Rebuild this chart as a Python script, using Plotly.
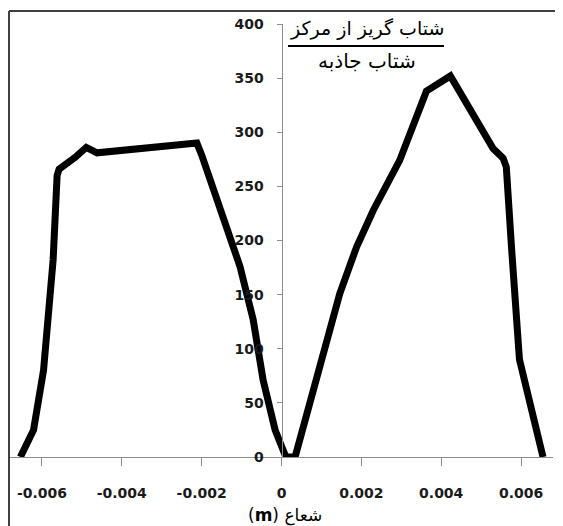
import plotly.graph_objects as go

# Radius (m) and ratio of centrifugal to gravitational acceleration
radius = [-0.00654, -0.00621, -0.00596, -0.00583, -0.00572, -0.00562, -0.00557,
          -0.00516, -0.00489, -0.00462, -0.00212, -0.00200, -0.00116, -0.00104,
          -0.00071, -0.00046, -0.00016, 0.00011, 0.00034, 0.00084, 0.00146,
          0.00188, 0.00230, 0.00296, 0.00363, 0.00423, 0.00530, 0.00555,
          0.00563, 0.00576, 0.00588, 0.00596, 0.00655]
ratio = [0, 25, 80, 127, 182, 260, 266,
         277, 286, 281, 290, 279, 185, 176,
         127, 71, 25, 0, 0, 65, 151,
         194, 228, 274, 338, 352, 285, 276,
         268, 194, 130, 90, 0]

x_ticks = [-0.006, -0.004, -0.002, 0, 0.002, 0.004, 0.006]
x_tick_labels = ["-0.006", "-0.004", "-0.002", "0", "0.002", "0.004", "0.006"]
y_ticks = [0, 50, 100, 150, 200, 250, 300, 350, 400]

# page has an 8px body margin; figure is sized so it ends at the window edge
OFF = 8
W, H = 563 - OFF, 526 - OFF
PL, PR, PT, PB = 10, 553, 24, 457          # plot area in page pixels
L, T = PL - OFF, PT - OFF
R, B = (OFF + W) - PR, (OFF + H) - PB
pw, ph = PR - PL, PB - PT


def px(xp):
    return (xp - PL) / pw


def py(yp):
    return (PB - yp) / ph


fig = go.Figure()
fig.add_trace(go.Scatter(x=radius, y=ratio, mode="lines",
                         line=dict(color="black", width=7),
                         hoverinfo="skip", showlegend=False))

tick_font = dict(family="DejaVu Sans", size=14, color="#1a1a1a", weight="bold")

fig.update_layout(
    width=W, height=H,
    margin=dict(l=L, r=R, t=T, b=B, autoexpand=False),
    paper_bgcolor="white", plot_bgcolor="white",
    xaxis=dict(range=[-0.0068, 0.0068], tickvals=x_ticks, ticktext=x_tick_labels,
               showgrid=False, zeroline=False, showline=True, linecolor="#8c8c8c",
               linewidth=1, ticks="outside", ticklen=8, tickcolor="#8c8c8c",
               ticklabelstandoff=15, tickfont=tick_font, automargin=False),
    yaxis=dict(range=[0, 400], tickvals=y_ticks, showgrid=False, zeroline=False,
               showline=True, linecolor="#8c8c8c", linewidth=1, ticks="outside",
               ticklen=5, tickcolor="#8c8c8c", anchor="free", position=0.5,
               ticklabelstandoff=10, tickfont=tick_font, automargin=False),
    font=dict(family="DejaVu Sans"),
)

# chart frame (top and left edges)
fig.add_shape(type="line", xref="paper", yref="paper", x0=px(9), x1=px(563),
              y0=py(11), y1=py(11), line=dict(color="#404040", width=2))
fig.add_shape(type="line", xref="paper", yref="paper", x0=px(9), x1=px(9),
              y0=py(11), y1=py(526), line=dict(color="#404040", width=2))

# y-axis title as a fraction
fig.add_annotation(xref="paper", yref="paper", x=px(367), y=py(15),
                   text="شتاب گریز از مرکز", showarrow=False,
                   font=dict(family="DejaVu Sans", size=19, color="black"))
fig.add_shape(type="line", xref="paper", yref="paper", x0=px(288), x1=px(444),
              y0=py(46), y1=py(46), line=dict(color="black", width=2))
fig.add_annotation(xref="paper", yref="paper", x=px(367), y=py(47),
                   text="شتاب جاذبه", showarrow=False,
                   font=dict(family="DejaVu Sans", size=20, color="black"))

# x-axis title
fig.add_annotation(xref="paper", yref="paper", x=px(285), y=py(503),
                   yanchor="top", text="(<b>m</b>) شعاع", showarrow=False,
                   font=dict(family="DejaVu Sans", size=17, color="black"))

fig.write_html("out.html")
